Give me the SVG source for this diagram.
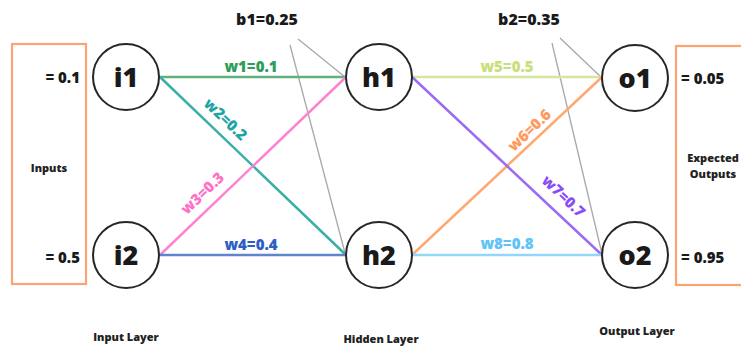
<svg xmlns="http://www.w3.org/2000/svg" width="741" height="349" viewBox="0 0 741 349">
<style>
text{font-family:"Open Sans","DejaVu Sans",sans-serif;font-weight:800;}
.node circle{fill:#fff;stroke:#262626;stroke-width:2;}
.nl{font-size:27px;fill:#1a1a1a;text-anchor:middle;}
.box{fill:none;stroke:#f9a472;stroke-width:2.2;}
.val{font-size:15px;fill:#1a1a1a;}
.small{font-size:11px;fill:#222;text-anchor:middle;}
.wl{font-size:15px;text-anchor:middle;}
.bl{font-size:16px;text-anchor:middle;fill:#1a1a1a;}
.c line{stroke-width:2.5;}
.c line.bias{stroke:#a8a8a8;stroke-width:1.3;}
</style>
<rect width="741" height="349" fill="#fff"/>
<g id="inputs-box">
<rect class="box" x="12" y="44" width="74" height="240"/>
<text class="val" x="80" y="83" text-anchor="end">= 0.1</text>
<text class="val" x="80" y="263" text-anchor="end">= 0.5</text>
<text class="small" x="49" y="172">Inputs</text>
</g>
<g id="outputs-box">
<rect class="box" x="676" y="46" width="70" height="239"/>
<text class="val" x="681" y="84">= 0.05</text>
<text class="val" x="681" y="263">= 0.95</text>
<text class="small" x="713" y="162">Expected</text>
<text class="small" x="713" y="178">Outputs</text>
</g>
<g id="connectors" class="c">
<line class="bias" x1="298" y1="39" x2="345" y2="77"/>
<line class="bias" x1="290" y1="45" x2="345" y2="253"/>
<line class="bias" x1="560" y1="38" x2="602" y2="78"/>
<line class="bias" x1="552" y1="43" x2="602" y2="254"/>
<line x1="160" y1="77" x2="346" y2="77" stroke="#5fb17e"/>
<line x1="160" y1="77" x2="346" y2="255" stroke="#3aaea8"/>
<line x1="160" y1="255" x2="346" y2="77" stroke="#ff82d2"/>
<line x1="160" y1="255" x2="346" y2="255" stroke="#5f86cc"/>
<line x1="412" y1="77" x2="602" y2="77" stroke="#d6e79c"/>
<line x1="412" y1="255" x2="602" y2="77" stroke="#ffa872"/>
<line x1="412" y1="77" x2="602" y2="255" stroke="#9a6cf5"/>
<line x1="412" y1="255" x2="602" y2="255" stroke="#93d5fb"/>
<text class="wl" x="251" y="72" fill="#2e9e5b">w1=0.1</text>
<text class="wl" transform="translate(222,123) rotate(43.7)" fill="#22a3a3">w2=0.2</text>
<text class="wl" transform="translate(206,197) rotate(-43.7)" fill="#ff70c8">w3=0.3</text>
<text class="wl" x="251" y="250" fill="#2c60c4">w4=0.4</text>
<text class="wl" x="507" y="72" fill="#c8e07c">w5=0.5</text>
<text class="wl" transform="translate(533,134) rotate(-43.7)" fill="#ff9a5c">w6=0.6</text>
<text class="wl" transform="translate(560,200) rotate(43.7)" fill="#8a4cf5">w7=0.7</text>
<text class="wl" x="507" y="249" fill="#5ec3f7">w8=0.8</text>
<text class="bl" x="267" y="25">b1=0.25</text>
<text class="bl" x="529" y="25">b2=0.35</text>
</g>
<g id="i1" class="node"><circle cx="126" cy="77" r="33"/><text class="nl" x="126" y="87">i1</text></g>
<g id="i2" class="node"><circle cx="126" cy="255" r="33"/><text class="nl" x="126" y="265">i2</text></g>
<g id="h1" class="node"><circle cx="379" cy="77" r="33"/><text class="nl" x="379" y="87">h1</text></g>
<g id="h2" class="node"><circle cx="379" cy="255" r="33"/><text class="nl" x="379" y="265">h2</text></g>
<g id="o1" class="node"><circle cx="635" cy="78" r="33"/><text class="nl" x="635" y="88">o1</text></g>
<g id="o2" class="node"><circle cx="635" cy="255" r="33"/><text class="nl" x="635" y="265">o2</text></g>
<g id="layer-labels">
<text class="small" x="126" y="341">Input Layer</text>
<text class="small" x="381" y="343">Hidden Layer</text>
<text class="small" x="637" y="335">Output Layer</text>
</g>
</svg>
